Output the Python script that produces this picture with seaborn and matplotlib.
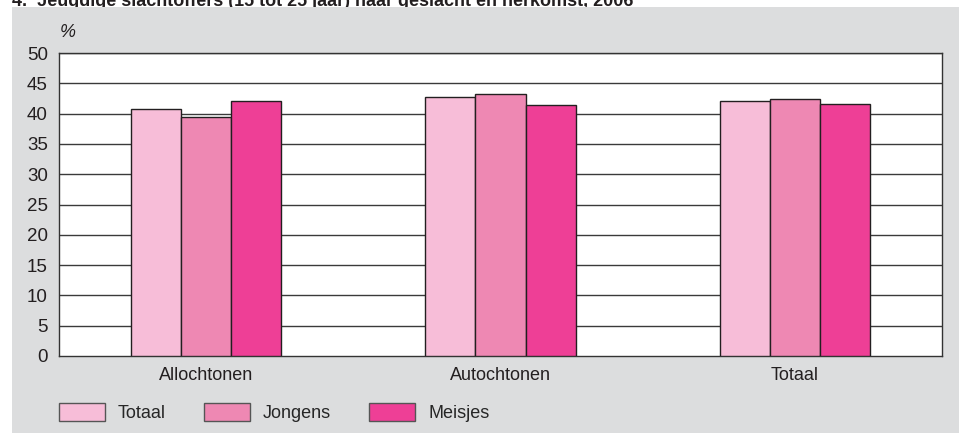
import pandas as pd
import matplotlib.pyplot as plt
import seaborn as sns
from matplotlib.patches import Rectangle

# Data
categories = ["Allochtonen", "Autochtonen", "Totaal"]
groups = ["Totaal", "Jongens", "Meisjes"]
totaal = [40.7, 42.7, 42.0]
jongens = [39.5, 43.3, 42.4]
meisjes = [42.1, 41.5, 41.6]
yticks = [0, 5, 10, 15, 20, 25, 30, 35, 40, 45, 50]

colors = ["#F7BDD8", "#EE88B3", "#EE3F96"]
bg = "#DCDDDE"

df = pd.DataFrame({
    "herkomst": categories * 3,
    "groep": ["Totaal"] * 3 + ["Jongens"] * 3 + ["Meisjes"] * 3,
    "pct": totaal + jongens + meisjes,
})

sns.set_style("white")
plt.rcParams['font.family'] = ['Liberation Sans', 'DejaVu Sans']

fig = plt.figure(figsize=(9.59, 4.33), dpi=100)
fig.patch.set_facecolor("white")
# grey panel behind the chart; it sits above the (cut-off) title
fig.patches.append(Rectangle((12 / 959, 0), 1 - 12 / 959, 1 - 7 / 433,
                             transform=fig.transFigure, facecolor=bg,
                             edgecolor="none", zorder=-10))

ax = fig.add_axes([59 / 959, 1 - 356 / 433, 883 / 959, 303 / 433])
ax.set_facecolor("white")

sns.barplot(data=df, x="herkomst", y="pct", hue="groep", hue_order=groups,
            order=categories, palette=colors, width=0.51, gap=0,
            edgecolor="#231F20", linewidth=1.0, saturation=1, ax=ax,
            legend=False, zorder=3)

ax.set_ylim(0, 50)
ax.set_xlim(-0.5, 2.5)
ax.set_yticks(yticks)
ax.set_yticklabels([str(t) for t in yticks])
for t in yticks[1:]:
    ax.axhline(t, color="#3a3a3a", lw=1.0, zorder=1)
ax.tick_params(axis="y", length=0, labelsize=13.5, colors="#231F20", pad=8)
ax.tick_params(axis="x", length=0, labelsize=13, colors="#231F20", pad=8)
ax.set_xlabel("")
ax.set_ylabel("")
for s in ax.spines.values():
    s.set_color("#333333")
    s.set_linewidth(1.0)

ax.text(0.001, 1 + 20.5 / 303, "%", transform=ax.transAxes, fontsize=13,
        style="italic", ha="left", va="center", color="#231F20")

fig.text(12 / 959, 1 - 6.5 / 433, "4.  Jeugdige slachtoffers (15 tot 25 jaar) naar geslacht en herkomst, 2006",
         fontsize=13, fontweight="bold", ha="left", va="baseline", color="#231F20",
         zorder=-20)

# Legend along the bottom
handles = [Rectangle((0, 0), 1, 1, facecolor=c, edgecolor="#555555", lw=1.0) for c in colors]
fig.legend(handles, groups, loc="center left", bbox_to_anchor=(59 / 959, 20.5 / 433),
           ncol=3, frameon=False, borderpad=0, borderaxespad=0,
           handlelength=2.55, handleheight=1.16, handletextpad=0.72,
           columnspacing=2.1, fontsize=13)

fig.savefig("out.png", dpi=100, facecolor=fig.get_facecolor())
